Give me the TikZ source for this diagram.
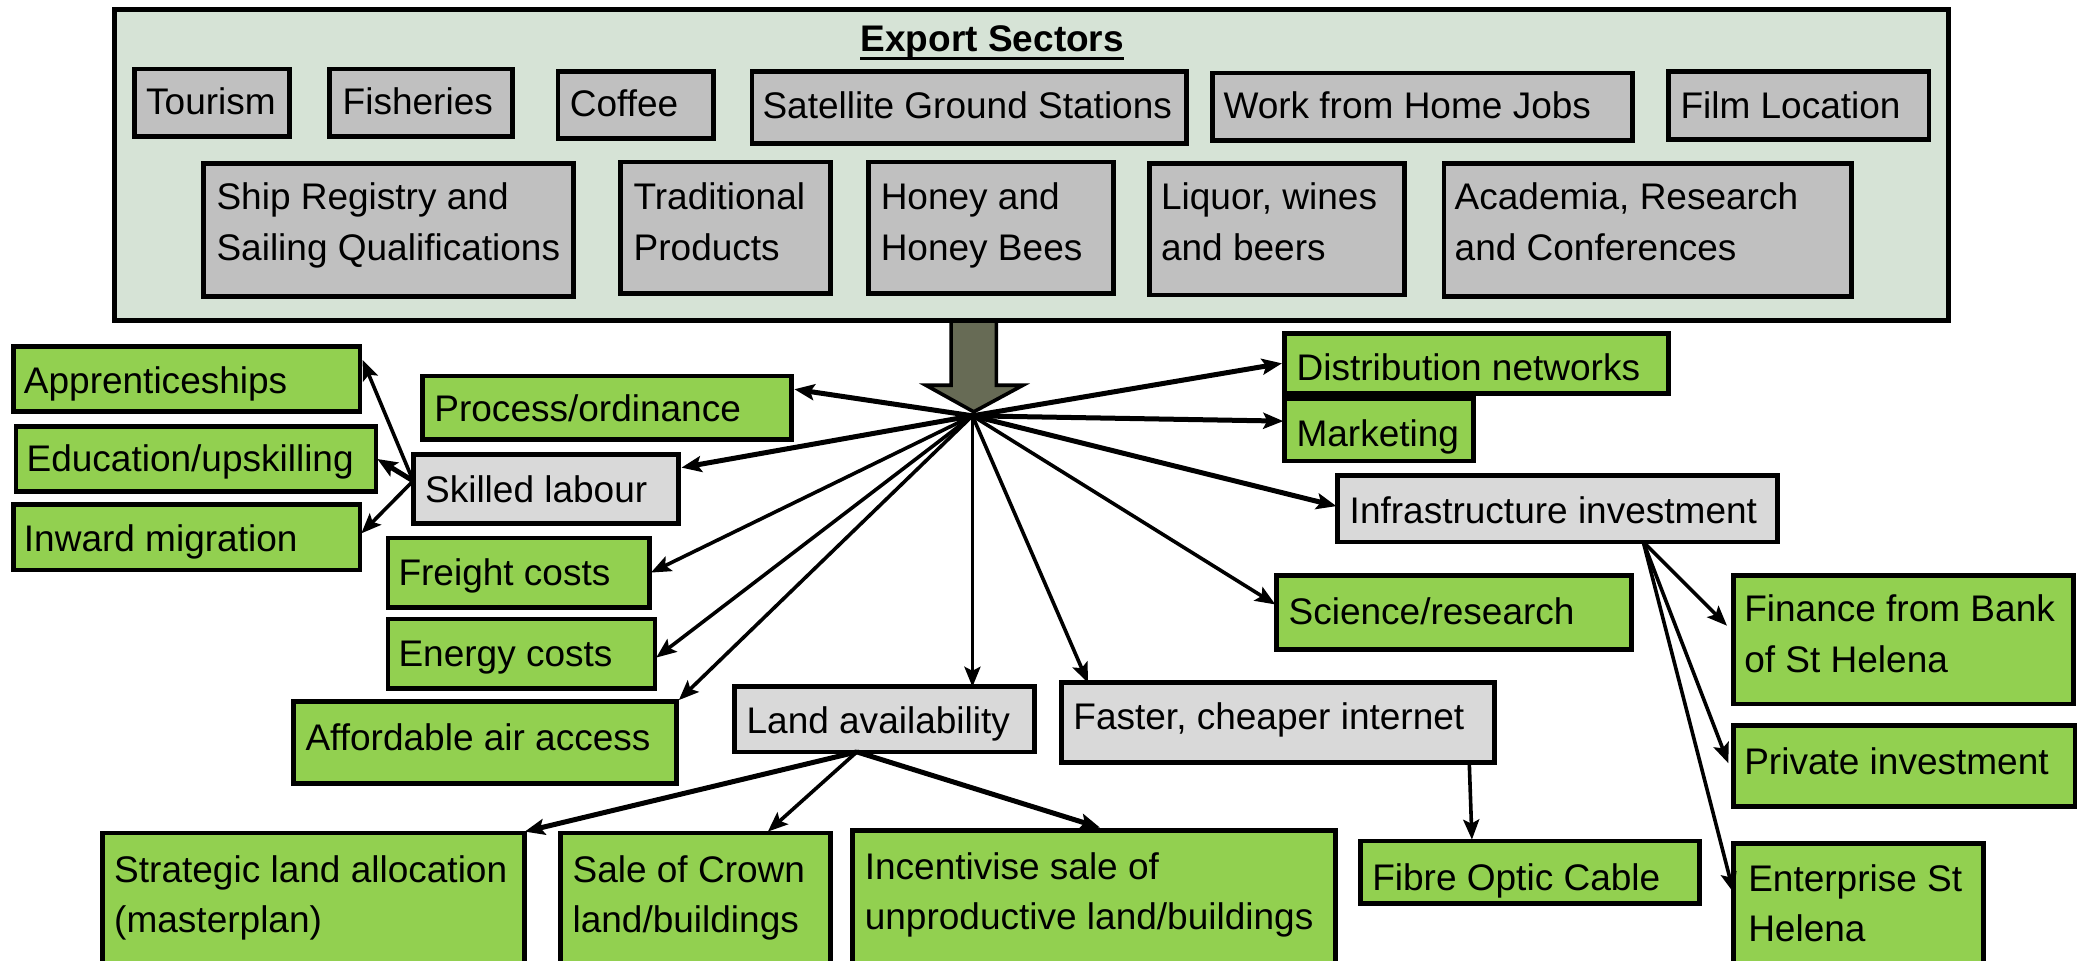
\documentclass[tikz,border=0pt]{standalone}
\usepackage{fontspec}
\setmainfont{Liberation Sans}
\usetikzlibrary{calc,arrows.meta}
\definecolor{exportbg}{RGB}{214,227,214}
\definecolor{boxgray}{RGB}{192,192,192}
\definecolor{boxlight}{RGB}{217,217,217}
\definecolor{boxgreen}{RGB}{146,208,80}
\definecolor{bigarrowc}{RGB}{103,107,85}
\newcommand\fs{\fontsize{18.5}{25.2}\selectfont}
\newcommand\mkbox[6]{\node[#2, minimum width={(#5-#3)*0.664pt}, minimum height={(#6-#4)*0.664pt}] (#1) at (#3,#4) {};}
\newcommand\lab[4]{\node[lbl] (#1) at (#2,#3-26.5) {\strut #4};}
\tikzset{
  basebox/.style={draw=black, line width=2.4pt, inner sep=0pt, outer sep=0pt, anchor=north west},
  grn/.style={basebox, fill=boxgreen},
  gry/.style={basebox, fill=boxgray},
  lgr/.style={basebox, fill=boxlight},
  exp/.style={basebox, fill=exportbg},
  lbl/.style={anchor=north west, inner sep=0pt, outer sep=0pt, font=\fs, align=left},
  tip/.style={-{Stealth[length=10pt,width=8pt,inset=2pt]}},
  thk/.style={tip, line width=2.5pt},
  thn/.style={tip, line width=1.8pt},
}
\begin{document}
\begin{tikzpicture}[x=0.664pt,y=-0.664pt]
\useasboundingbox (0,0) rectangle (1568,723);
\clip (0,0) rectangle (1568,723);
\fill[white] (0,0) rectangle (1568,723);
% big arrow
\draw[fill=bigarrowc, line width=1.8pt, line join=miter]
  (716,235) -- (716,290) -- (697,290) -- (733,310) -- (770,290) -- (750,290) -- (750,235) -- cycle;
% export sectors
\mkbox{exp}{exp}{86}{7}{1467}{241}
\node[anchor=base, inner sep=0pt, font=\fs\bfseries] (title) at (747,39) {Export Sectors};
\draw[line width=1.6pt] ($(title.base west)+(0,5)$) -- ($(title.base east)+(0,5)$);
\mkbox{tour}{gry}{101}{52}{218}{103}
\mkbox{fish}{gry}{248}{52}{386}{103}
\mkbox{cof}{gry}{420}{54}{537}{104}
\mkbox{sat}{gry}{566}{54}{893}{108}
\mkbox{wfh}{gry}{913}{55}{1229}{106}
\mkbox{film}{gry}{1256}{54}{1452}{105}
\mkbox{ship}{gry}{153}{123}{432}{223}
\mkbox{trad}{gry}{467}{122}{625}{221}
\mkbox{honey}{gry}{654}{122}{838}{221}
\mkbox{liq}{gry}{865}{123}{1057}{222}
\mkbox{acad}{gry}{1087}{123}{1394}{223}
\lab{ttour}{110}{86}{Tourism}
\lab{tfish}{258}{86}{Fisheries}
\lab{tcof}{429}{88}{Coffee}
\lab{tsat}{574}{89}{Satellite Ground Stations}
\lab{twfh}{921}{89}{Work from Home Jobs}
\lab{tfilm}{1265}{89}{Film Location}
\lab{tship}{163}{158}{Ship Registry and\\Sailing Qualifications}
\lab{ttrad}{477}{158}{Traditional\\Products}
\lab{thoney}{663}{158}{Honey and\\Honey Bees}
\lab{tliq}{874}{158}{Liquor, wines\\and beers}
\lab{tacad}{1095}{158}{Academia, Research\\and Conferences}
% left column
\mkbox{app}{grn}{10}{261}{271}{310}
\mkbox{edu}{grn}{12}{321}{283}{370}
\mkbox{inw}{grn}{10}{380}{271}{429}
\mkbox{proc}{grn}{318}{283}{596}{331}
\mkbox{skl}{lgr}{311}{342}{511}{394}
\mkbox{frt}{grn}{292}{405}{489}{457}
\mkbox{eng}{grn}{292}{466}{493}{518}
\mkbox{air}{grn}{221}{528}{509}{590}
\mkbox{land}{lgr}{553}{517}{779}{566}
\mkbox{net}{lgr}{799}{514}{1125}{574}
\lab{tapp}{18}{296}{Apprenticeships}
\lab{tedu}{20}{355}{Education/upskilling}
\lab{tinw}{18}{415}{Inward migration}
\lab{tproc}{327}{317}{Process/ordinance}
\lab{tskl}{320}{378}{Skilled labour}
\lab{tfrt}{300}{441}{Freight costs}
\lab{teng}{300}{502}{Energy costs}
\lab{tair}{230}{565}{Affordable air access}
\lab{tland}{562}{552}{Land availability}
\lab{tnet}{808}{549}{Faster, cheaper internet}
% right column
\mkbox{dist}{grn}{967}{251}{1256}{296}
\mkbox{mkt}{grn}{967}{300}{1109}{347}
\mkbox{inf}{lgr}{1007}{358}{1338}{408}
\mkbox{sci}{grn}{961}{433}{1228}{489}
\mkbox{fin}{grn}{1305}{433}{1561}{530}
\mkbox{prv}{grn}{1305}{546}{1562}{607}
\mkbox{ent}{grn}{1305}{635}{1493}{735}
\lab{tdist}{976}{286}{Distribution networks}
\lab{tmkt}{976}{336}{Marketing}
\lab{tinf}{1016}{394}{Infrastructure investment}
\lab{tsci}{970}{470}{Science/research}
\lab{tfin}{1313}{468}{Finance from Bank\\of St Helena}
\lab{tprv}{1313}{583}{Private investment}
\lab{tent}{1316}{671}{Enterprise St\\Helena}
% bottom row
\mkbox{str}{grn}{77}{627}{395}{740}
\mkbox{sale}{grn}{422}{627}{625}{740}
\mkbox{inc}{grn}{642}{625}{1005}{740}
\mkbox{fib}{grn}{1024}{633}{1279}{680}
\lab{tstr}{86}{664}{Strategic land allocation\\(masterplan)}
\lab{tsale}{431}{664}{Sale of Crown\\land/buildings}
\lab{tinc}{651}{662}{Incentivise sale of\\unproductive land/buildings}
\lab{tfib}{1033}{670}{Fibre Optic Cable}
% connectors from hub
\coordinate (hub) at (732,313);
\draw[thk] (hub) -- ($(proc.north east)+(2,10)$);
\draw[thk] (hub) -- ($(skl.north east)+(2,10)$);
\draw[thn] (hub) -- ($(frt.east)+(1,0)$);
\draw[thn] (hub) -- ($(eng.east)+(1,3)$);
\draw[thn] (hub) -- ($(air.north east)+(2,-1)$);
\draw[thn] (hub) -- (hub |- land.north);
\draw[thn] (hub) -- ($(net.north west)+(20,0)$);
\draw[thn] (hub) -- ($(sci.north west)+(-1,22)$);
\draw[thk] (hub) -- ($(inf.west)+(-1,-2)$);
\draw[thk] (hub) -- ($(mkt.north west)+(-1,17)$);
\draw[thk] (hub) -- ($(dist.west)+(-2,0)$);
% skilled labour
\coordinate (sklL) at ($(skl.west)+(0,-6)$);
\draw[thn] (sklL) -- ($(app.north east)+(2,10)$);
\draw[thk] (sklL) -- ($(edu.east)+(1,0)$);
\draw[thn] (sklL) -- ($(inw.east)+(1,-3)$);
% infrastructure
\coordinate (infB) at ($(inf.south west)+(230,0)$);
\draw[thn] (infB) -- ($(fin.north west)+(-5,38)$);
\draw[thn] (infB) -- ($(prv.west)+(-4,-2)$);
\draw[thn] (infB) -- ($(ent.north west)+(0,37)$);
% land
\coordinate (landB) at ($(land.south west)+(92,0)$);
\draw[thk] (landB) -- ($(str.north east)+(0,-1)$);
\draw[thn] (landB) -- ($(sale.north west)+(156,-1)$);
\draw[thk] (landB) -- ($(inc.north west)+(186,-2)$);
% internet
\draw[thn] ($(net.south east)+(-19,0)$) -- ($(fib.north west)+(84,-1)$);
\end{tikzpicture}
\end{document}
